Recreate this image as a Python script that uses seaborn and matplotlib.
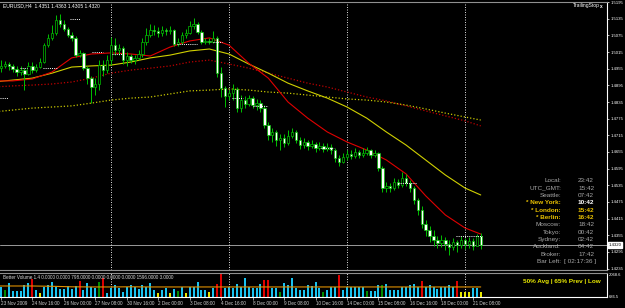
import numpy as np
import pandas as pd
import matplotlib
matplotlib.use("Agg")
import matplotlib.pyplot as plt
import seaborn as sns

# ---------------- data (EURUSD H4, 23 Nov 2009 00:00 .. 21 Dec 2009 16:00) -------------
first_open = 1.4945
closes = [1.4950, 1.4957, 1.4965, 1.4972, 1.4965, 1.4954, 1.4943, 1.4950, 1.4936, 1.4965,
          1.4950, 1.4961, 1.4979, 1.5040, 1.5066, 1.5084, 1.5131, 1.5116, 1.5098, 1.5077,
          1.5066, 1.5004, 1.5012, 1.4957, 1.4921, 1.4889, 1.4900, 1.4968, 1.4950, 1.4986,
          1.5040, 1.5022, 1.5030, 1.4986, 1.5001, 1.4986, 1.4994, 1.5008, 1.5051, 1.5077,
          1.5095, 1.5091, 1.5084, 1.5095, 1.5091, 1.5095, 1.5044, 1.5051, 1.5077, 1.5084,
          1.5109, 1.5116, 1.5087, 1.5051, 1.5055, 1.5051, 1.5066, 1.4939, 1.4885, 1.4857,
          1.4867, 1.4882, 1.4813, 1.4842, 1.4828, 1.4849, 1.4824, 1.4831, 1.4813, 1.4752,
          1.4716, 1.4727, 1.4698, 1.4705, 1.4687, 1.4713, 1.4727, 1.4698, 1.4680, 1.4691,
          1.4677, 1.4684, 1.4669, 1.4677, 1.4666, 1.4673, 1.4662, 1.4633, 1.4619, 1.4637,
          1.4648, 1.4641, 1.4655, 1.4644, 1.4651, 1.4662, 1.4644, 1.4651, 1.4597, 1.4525,
          1.4533, 1.4525, 1.4547, 1.4536, 1.4561, 1.4543, 1.4525, 1.4482, 1.4446, 1.4395,
          1.4374, 1.4352, 1.4338, 1.4327, 1.4338, 1.4323, 1.4312, 1.4331, 1.4320, 1.4338,
          1.4323, 1.4334, 1.4316, 1.4351, 1.4320]
highs = [1.4979, 1.4979, 1.4986, 1.4983, 1.4979, 1.4972, 1.4965, 1.4965, 1.4957, 1.4979,
         1.4979, 1.4972, 1.4994, 1.5048, 1.5080, 1.5112, 1.5149, 1.5152, 1.5131, 1.5105,
         1.5087, 1.5073, 1.5022, 1.5015, 1.4965, 1.4929, 1.4921, 1.4986, 1.4986, 1.5004,
         1.5069, 1.5066, 1.5044, 1.5037, 1.5015, 1.5008, 1.5004, 1.5022, 1.5066, 1.5102,
         1.5116, 1.5112, 1.5105, 1.5109, 1.5102, 1.5109, 1.5098, 1.5066, 1.5087, 1.5098,
         1.5127, 1.5138, 1.5123, 1.5095, 1.5066, 1.5066, 1.5091, 1.5073, 1.4961, 1.4893,
         1.4878, 1.4900, 1.4889, 1.4860, 1.4857, 1.4860, 1.4857, 1.4846, 1.4842, 1.4824,
         1.4763, 1.4741, 1.4734, 1.4720, 1.4720, 1.4734, 1.4741, 1.4734, 1.4709, 1.4705,
         1.4698, 1.4698, 1.4691, 1.4691, 1.4687, 1.4687, 1.4684, 1.4669, 1.4644, 1.4651,
         1.4662, 1.4662, 1.4669, 1.4662, 1.4669, 1.4673, 1.4666, 1.4662, 1.4655, 1.4605,
         1.4547, 1.4543, 1.4561, 1.4558, 1.4583, 1.4576, 1.4554, 1.4533, 1.4489, 1.4461,
         1.4410, 1.4388, 1.4374, 1.4352, 1.4356, 1.4348, 1.4338, 1.4345, 1.4338, 1.4352,
         1.4345, 1.4348, 1.4345, 1.4360, 1.4363]
lows = [1.4932, 1.4939, 1.4943, 1.4957, 1.4950, 1.4943, 1.4929, 1.4932, 1.4878, 1.4932,
        1.4939, 1.4943, 1.4957, 1.4975, 1.5033, 1.5058, 1.5077, 1.5105, 1.5091, 1.5069,
        1.5055, 1.4997, 1.4997, 1.4950, 1.4900, 1.4831, 1.4860, 1.4878, 1.4929, 1.4939,
        1.4968, 1.5004, 1.5004, 1.4972, 1.4965, 1.4975, 1.4972, 1.4986, 1.4997, 1.5040,
        1.5069, 1.5077, 1.5069, 1.5073, 1.5077, 1.5080, 1.5037, 1.5037, 1.5044, 1.5066,
        1.5080, 1.5098, 1.5080, 1.5044, 1.5044, 1.5044, 1.5048, 1.4925, 1.4853, 1.4817,
        1.4842, 1.4842, 1.4799, 1.4799, 1.4813, 1.4821, 1.4813, 1.4806, 1.4799, 1.4741,
        1.4698, 1.4691, 1.4677, 1.4662, 1.4673, 1.4680, 1.4705, 1.4687, 1.4666, 1.4669,
        1.4662, 1.4669, 1.4655, 1.4662, 1.4655, 1.4659, 1.4648, 1.4619, 1.4605, 1.4615,
        1.4626, 1.4630, 1.4633, 1.4633, 1.4637, 1.4644, 1.4633, 1.4637, 1.4587, 1.4511,
        1.4511, 1.4511, 1.4518, 1.4525, 1.4529, 1.4533, 1.4511, 1.4468, 1.4428, 1.4381,
        1.4352, 1.4331, 1.4316, 1.4309, 1.4312, 1.4302, 1.4284, 1.4302, 1.4295, 1.4309,
        1.4305, 1.4309, 1.4302, 1.4316, 1.4305]

# moving averages sampled every 5 bars (bar index) + last bar
ma_bars = [0, 5, 10, 15, 20, 25, 30, 35, 40, 45, 50, 55, 60, 65, 70, 75, 80, 85, 90,
           95, 100, 105, 110, 115, 120, 124]
ma_red = [1.4911, 1.4911, 1.4918, 1.4943, 1.4994, 1.5008, 1.5012, 1.5008, 1.5001, 1.5033,
          1.5055, 1.5066, 1.5040, 1.4975, 1.4921, 1.4835, 1.4777, 1.4727, 1.4691, 1.4662,
          1.4626, 1.4576, 1.4497, 1.4428, 1.4381, 1.4359]
ma_yellow = [1.4907, 1.4914, 1.4921, 1.4939, 1.4961, 1.4965, 1.4968, 1.4979, 1.4994, 1.5004,
             1.5019, 1.5026, 1.5008, 1.4972, 1.4939, 1.4903, 1.4875, 1.4849, 1.4817, 1.4777,
             1.4727, 1.4680, 1.4626, 1.4572, 1.4525, 1.4500]
ma_red_slow = [1.4889, 1.4893, 1.4896, 1.4900, 1.4907, 1.4921, 1.4939, 1.4950, 1.4957, 1.4965,
               1.4979, 1.4986, 1.4972, 1.4957, 1.4939, 1.4921, 1.4903, 1.4889, 1.4871, 1.4853,
               1.4839, 1.4821, 1.4803, 1.4785, 1.4767, 1.4749]
ma_yellow_slow = [1.4799, 1.4806, 1.4813, 1.4817, 1.4821, 1.4831, 1.4842, 1.4849, 1.4853, 1.4864,
                  1.4875, 1.4878, 1.4882, 1.4878, 1.4871, 1.4867, 1.4860, 1.4853, 1.4846, 1.4842,
                  1.4835, 1.4824, 1.4810, 1.4795, 1.4781, 1.4770]

# trailing-stop levels: (first bar, last bar, price)
stop_levels = [(1.8, 3.8, 1.4849), (6.9, 8.6, 1.4957), (12.7, 16.3, 1.4957), (19.6, 22.1, 1.5134),
               (25.2, 28.0, 1.5015), (30.3, 32.8, 1.5008), (46.8, 51.9, 1.5044), (56.0, 58.2, 1.5051),
               (60.8, 63.6, 1.4849), (66.0, 69.9, 1.4821), (83.4, 86.7, 1.4669), (103.0, 107.5, 1.4543),
               (117.7, 124.3, 1.4352)]

volumes = [1300, 1250, 1288, 1107, 1528, 1047, 1047, 1047, 1408, 1528,
           1768, 1107, 927, 1288, 1408, 1590, 1288, 1167, 1167, 1348,
           1167, 1348, 1650, 1107, 1528, 1288, 1227, 1588, 1828, 927,
           1227, 1408, 1227, 1005, 1305, 1408, 1270, 1167, 1408, 1305,
           1510, 1107, 909, 1107, 1227, 909, 1167, 1065, 1305, 940,
           1270, 1305, 1606, 1107, 1107, 967, 1208, 1449, 2110, 1208,
           1308, 1208, 1449, 1308, 1810, 1308, 1208, 1208, 1449, 1708,
           1708, 1208, 1208, 1007, 1510, 1408, 1810, 1208, 1107, 1107,
           1408, 1370, 1610, 1208, 1007, 1107, 1308, 1308, 2010, 1107,
           1308, 1308, 1308, 1308, 1308, 1047, 1047, 1047, 1408, 1408,
           1449, 1107, 1107, 1107, 1308, 1308, 1408, 1449, 1308, 1650,
           1308, 1400, 1308, 1150, 1308, 1308, 1400, 1300, 1650, 1000,
           1000, 1000, 1227, 1227, 960]
red_vol = [10, 22, 28, 57, 58, 69, 70, 88, 109, 118]
yellow_vol = [12, 42, 45, 49, 55, 119, 120, 121, 124]
green_vol = [3, 27, 47, 73, 84, 95, 99]
vol_avg = [1348, 1348, 1348, 1330, 1300, 1290, 1290, 1300, 1290, 1290, 1290, 1290, 1290,
           1290, 1290, 1290, 1290, 1290, 1290, 1290, 1290, 1290, 1290, 1290, 1290, 1290]

label_bars = [2, 10, 18, 26, 34, 42, 50, 58, 66, 74, 82, 90, 98, 106, 114, 122]
label_text = ["23 Nov 2009", "24 Nov 16:00", "26 Nov 00:00", "27 Nov 08:00", "30 Nov 16:00",
              "2 Dec 00:00", "3 Dec 08:00", "4 Dec 16:00", "8 Dec 00:00", "9 Dec 08:00",
              "10 Dec 16:00", "14 Dec 00:00", "15 Dec 08:00", "16 Dec 16:00", "18 Dec 00:00",
              "21 Dec 08:00"]
week_bars = [30, 60, 90, 120]
price_ticks = [1.4235, 1.4295, 1.4355, 1.4415, 1.4475, 1.4535, 1.4595, 1.4655, 1.4715,
               1.4775, 1.4835, 1.4895, 1.4955, 1.5015, 1.5075, 1.5135, 1.5195]

clock_names = ["Local:", "UTC_GMT:", "Seattle:", "* New York:", "* London:", "* Berlin:",
               "Moscow:", "Tokyo:", "Sydney:", "Auckland:", "Broker:", "Bar Left:"]
clock_times = ["23:42", "15:42", "07:42", "10:42", "15:42", "16:42", "18:42", "00:42",
               "02:42", "04:42", "17:42", "[ 02:17:36 ]"]

# ---------------- style ----------------
sns.set_style("dark", {"axes.facecolor": "black", "figure.facecolor": "black"})
plt.rcParams["font.family"] = ["Liberation Sans Narrow", "Liberation Sans", "DejaVu Sans"]
plt.rcParams["patch.force_edgecolor"] = False

W, H = 625, 308
fig = plt.figure(figsize=(W / 100, H / 100), dpi=100, facecolor="black")


def frame(x0, y0, x1, y1):
    return [x0 / W, 1 - y1 / H, (x1 - x0) / W, (y1 - y0) / H]


axp = fig.add_axes(frame(0, 2, 607, 270))
axv = fig.add_axes(frame(0, 273, 607, 297))
XL = (1.78, 156.1)

GREEN = "#00c000"
n = len(closes)
bars = np.arange(n)
opens = [first_open] + closes[:-1]
df = pd.DataFrame({"bar": bars, "open": opens, "high": highs, "low": lows, "close": closes})

# wicks
axp.vlines(df["bar"], df["low"], df["high"], color=GREEN, lw=0.7, zorder=3)
bear = df["close"] < df["open"]
body_lo = np.minimum(df["open"], df["close"])
body_h = np.maximum(np.abs(df["close"] - df["open"]), 0.00012)
axp.bar(df["bar"], body_h, bottom=body_lo, width=0.62,
        color=np.where(bear, "white", "black"), edgecolor=GREEN, linewidth=0.5, zorder=4)

# moving averages
ma = pd.DataFrame({"bar": ma_bars, "red": ma_red, "yel": ma_yellow,
                   "reds": ma_red_slow, "yels": ma_yellow_slow})
sns.lineplot(data=ma, x="bar", y="reds", ax=axp, color="#c00000", lw=0.9,
             linestyle=(0, (1, 1.6)), zorder=2)
sns.lineplot(data=ma, x="bar", y="yels", ax=axp, color="#c8c800", lw=0.9,
             linestyle=(0, (1, 1.6)), zorder=2)
sns.lineplot(data=ma, x="bar", y="yel", ax=axp, color="#d0d000", lw=0.8, zorder=2)
sns.lineplot(data=ma, x="bar", y="red", ax=axp, color="#e00000", lw=0.8, zorder=2)

for b0, b1, lvl in stop_levels:
    axp.hlines(lvl, b0, b1, color="white", lw=0.7, linestyle=(0, (1, 1.2)), zorder=5)

# current price line
axp.axhline(closes[-1], color="#9a9a9a", lw=0.7, zorder=1)

for wb in week_bars:
    axp.axvline(wb, color="white", lw=0.6, linestyle=(0, (1.2, 1.8)), zorder=1)
    axv.axvline(wb, color="white", lw=0.6, linestyle=(0, (1.2, 1.8)), zorder=1)

axp.set_xlim(*XL)
axp.set_ylim(1.42296, 1.51954)
axp.set_xlabel("")
axp.set_ylabel("")
axp.set_xticks([])
axp.yaxis.tick_right()
axp.set_yticks(price_ticks)
axp.set_yticklabels([f"{t:.4f}" for t in price_ticks])
axp.tick_params(axis="y", right=True, length=1.5, width=0.5, colors="white",
                labelsize=3.1, pad=1)
axp.grid(False)

# volume panel
vol_cls = ["cyan"] * n
for k in red_vol:
    vol_cls[k] = "red"
for k in yellow_vol:
    vol_cls[k] = "yellow"
for k in green_vol:
    vol_cls[k] = "green"
cmap = {"cyan": "#19c3f0", "red": "#e00000", "yellow": "#e8e800", "green": "#008c00"}
vdf = pd.DataFrame({"bar": bars, "vol": volumes, "cls": vol_cls})
axv.bar(vdf["bar"], vdf["vol"], width=0.5, color=[cmap[c] for c in vdf["cls"]],
        edgecolor="none", linewidth=0, zorder=2)
vavg = pd.DataFrame({"bar": ma_bars, "avg": vol_avg})
sns.lineplot(data=vavg, x="bar", y="avg", ax=axv, color="#e09000", lw=0.8, zorder=3)
axv.set_xlim(*XL)
axv.set_ylim(686.5, 2128.7)
axv.set_xlabel("")
axv.set_ylabel("")
axv.yaxis.tick_right()
axv.set_yticks([686.5, 2068.6])
axv.set_yticklabels(["686.5", "2068.6"])
axv.tick_params(axis="y", right=True, length=0, colors="white", labelsize=3.0, pad=1.5)
axv.set_xticks(label_bars)
axv.set_xticklabels(label_text)
for lab in axv.get_xticklabels():
    lab.set_horizontalalignment("left")
axv.tick_params(axis="x", bottom=True, length=2, width=0.5, colors="#d0d0d0",
                labelsize=3.3, pad=1)
axv.grid(False)

for ax in (axp, axv):
    ax.spines["left"].set_visible(False)
    ax.spines["right"].set_color("white")
    ax.spines["right"].set_linewidth(0.8)
    ax.spines["top"].set_color("#909090")
    ax.spines["top"].set_linewidth(0.8)
    ax.spines["bottom"].set_color("#909090")
    ax.spines["bottom"].set_linewidth(0.8)
axv.spines["bottom"].set_color("white")

axv.text(0.005, 0.93, "Better Volume 1.4 0.0000 0.0000 798.0000 0.0000 0.0000 0.0000 1596.0000 3.0000",
         transform=axv.transAxes, fontsize=3.3, color="#d8d8d8", va="top", ha="left")


def ftext(x, y, s, **kw):
    fig.text(x / W, 1 - y / H, s, va="center", **kw)


ftext(3, 6, "EURUSD,H4  1.4351 1.4363 1.4305 1.4320", fontsize=3.6, color="white")
ftext(573, 6, "TrailingStop", fontsize=3.6, color="white")
ftext(600, 6, "x", fontsize=3.4, color="white", fontweight="bold")

gray = "#a8a8a8"
gold = "#e8c000"
rows_y = [181, 188.3, 195.6, 202.9, 210.2, 217.5, 224.8, 232.1, 239.4, 246.7, 254, 261.3]
for k, (nm, tm) in enumerate(zip(clock_names, clock_times)):
    star = nm.startswith("*")
    ftext(561, rows_y[k], nm, fontsize=4.6, color=gold if star else gray, ha="right",
          fontweight="bold" if star else "normal")
    tcol = gray
    if star:
        tcol = "white" if "New York" in nm else gold
    ftext(564 if k == 11 else 578, rows_y[k], tm, fontsize=4.6, color=tcol, ha="left",
          fontweight="bold" if star else "normal")

ftext(523, 282, "50% Avg | 65% Prev | Low", fontsize=4.6, color="#e8e800", fontweight="bold")

# current price box on the axis
fig.text(608.5 / W, 1 - 245 / H, "1.4320", fontsize=3.1, color="black", va="center",
         ha="left", bbox=dict(boxstyle="square,pad=0.15", fc="white", ec="white"))

fig.savefig("out.png", dpi=100, facecolor="black")
